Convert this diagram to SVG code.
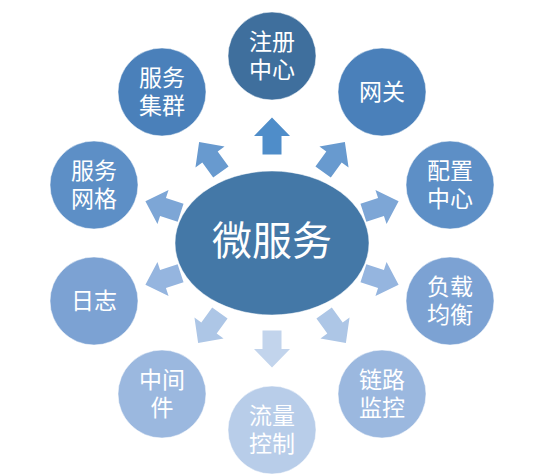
<svg xmlns="http://www.w3.org/2000/svg" width="557" height="474" viewBox="0 0 557 474">
<defs>
<style>
.t{font-family:"Liberation Sans","Noto Sans CJK SC",sans-serif;fill:#fff;font-size:23px;text-anchor:middle;dominant-baseline:central}
.big{font-size:40px}
.n{stroke:#fff;stroke-opacity:0.5;stroke-width:1}
</style>
<path id="arr" d="M-18.5,-9.5 H0 V-18 L18.5,0 L0,18 V9.5 H-18.5 Z"/>
</defs>
<rect width="557" height="474" fill="#fff"/>
<g id="connectors">
<use href="#arr" transform="translate(272,136) rotate(-90)" fill="#4F8DC9"/>
<use href="#arr" transform="translate(334,157) rotate(-54)" fill="#689ACF"/>
<use href="#arr" transform="translate(381,207) rotate(-18)" fill="#7DA6D6"/>
<use href="#arr" transform="translate(381,279) rotate(18)" fill="#95B5DF"/>
<use href="#arr" transform="translate(335,328) rotate(54)" fill="#ADC6E6"/>
<use href="#arr" transform="translate(272,349) rotate(90)" fill="#C2D4EC"/>
<use href="#arr" transform="translate(209,328) rotate(126)" fill="#ADC6E6"/>
<use href="#arr" transform="translate(163,279) rotate(162)" fill="#95B5DF"/>
<use href="#arr" transform="translate(163,207) rotate(198)" fill="#7DA6D6"/>
<use href="#arr" transform="translate(210,157) rotate(234)" fill="#689ACF"/>
</g>
<g id="center">
<ellipse class="n" cx="272" cy="243" rx="97" ry="72" fill="#4478A7"/>
<text class="t big" x="272" y="241">微服务</text>
</g>
<g id="n1">
<circle class="n" cx="272" cy="56" r="44" fill="#3F6F9D"/>
<text class="t"><tspan x="272" y="42">注册</tspan><tspan x="272" y="70">中心</tspan></text>
</g>
<g id="n2">
<circle class="n" cx="382" cy="92" r="44" fill="#4A80BA"/>
<text class="t" x="382" y="92">网关</text>
</g>
<g id="n3">
<circle class="n" cx="450" cy="185" r="44" fill="#5D8FC6"/>
<text class="t"><tspan x="450" y="171">配置</tspan><tspan x="450" y="199">中心</tspan></text>
</g>
<g id="n4">
<circle class="n" cx="450" cy="301" r="44" fill="#7CA2D3"/>
<text class="t"><tspan x="450" y="287">负载</tspan><tspan x="450" y="315">均衡</tspan></text>
</g>
<g id="n5">
<circle class="n" cx="382" cy="394" r="44" fill="#9BB8DF"/>
<text class="t"><tspan x="382" y="380">链路</tspan><tspan x="382" y="408">监控</tspan></text>
</g>
<g id="n6">
<circle class="n" cx="272" cy="430" r="44" fill="#B8CDE9"/>
<text class="t"><tspan x="272" y="416">流量</tspan><tspan x="272" y="444">控制</tspan></text>
</g>
<g id="n7">
<circle class="n" cx="162" cy="394" r="44" fill="#9BB8DF"/>
<text class="t"><tspan x="162" y="380">中间</tspan><tspan x="162" y="408">件</tspan></text>
</g>
<g id="n8">
<circle class="n" cx="94" cy="301" r="44" fill="#7CA2D3"/>
<text class="t" x="94" y="301">日志</text>
</g>
<g id="n9">
<circle class="n" cx="94" cy="185" r="44" fill="#5D8FC6"/>
<text class="t"><tspan x="94" y="171">服务</tspan><tspan x="94" y="199">网格</tspan></text>
</g>
<g id="n10">
<circle class="n" cx="162" cy="92" r="44" fill="#4A80BA"/>
<text class="t"><tspan x="162" y="78">服务</tspan><tspan x="162" y="106">集群</tspan></text>
</g>
</svg>
